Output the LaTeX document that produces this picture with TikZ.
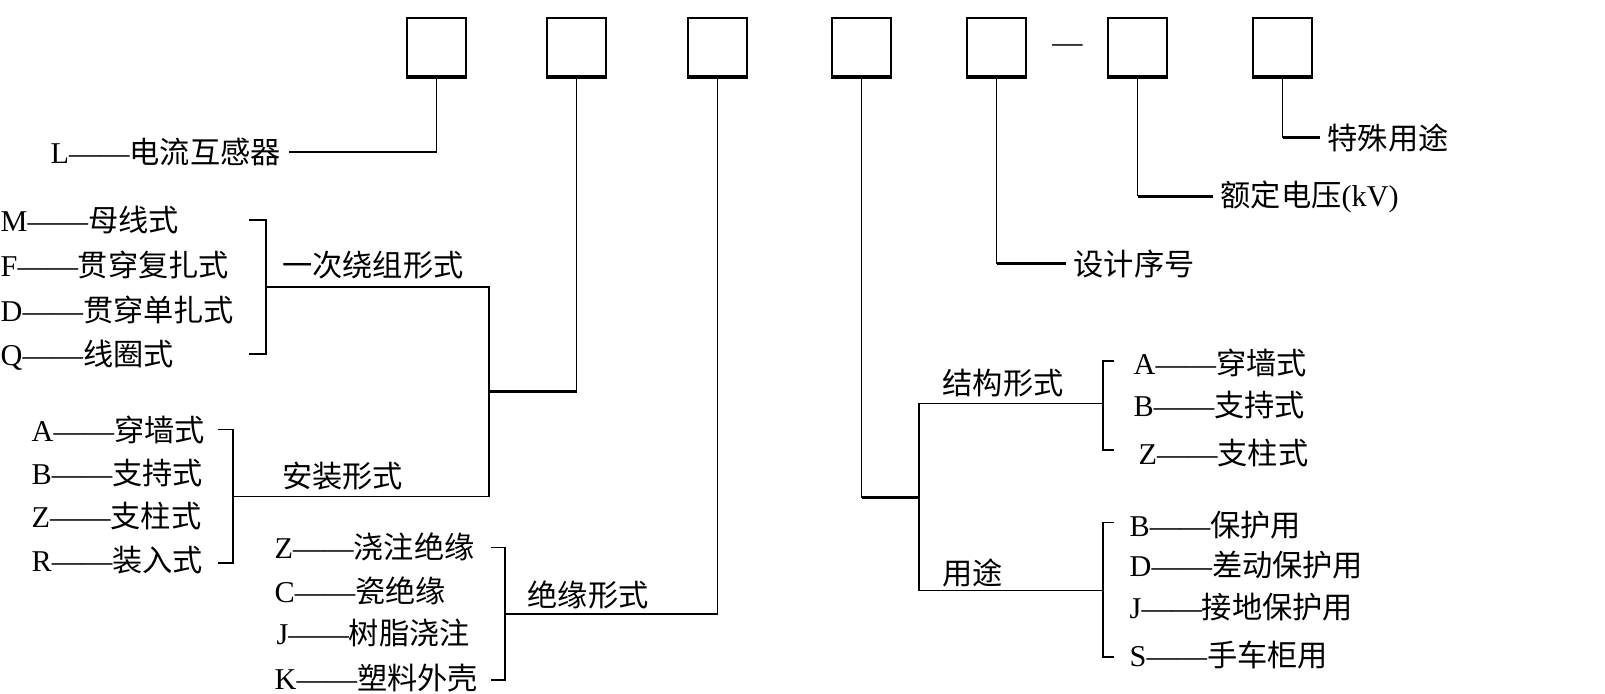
\documentclass[tikz,border=0pt]{standalone}
\usepackage{fontspec}
\setmainfont{Liberation Serif}
\newfontfamily\cjk{Noto Sans CJK SC}

\tikzset{
	code/.style={draw, line width=0.5pt, minimum width=0.59cm, minimum height=0.587cm, inner sep=0pt},
	item/.style={anchor=west, inner sep=2pt, font=\fontsize{8.6}{10}\selectfont},
	head/.style={item, font=\fontsize{8.6}{10}\selectfont\cjk},
	wire/.style={line width=0.45pt},
	bold wire/.style={line width=0.85pt}
}

\begin{document}
\begin{tikzpicture}
	\useasboundingbox (0, 0) rectangle (16.05, 6.94);
	\node[code](b1) at (4.365, 6.47){};
	\node[code](b2) at (5.765, 6.47){};
	\node[code](b3) at (7.175, 6.47){};
	\node[code](b4) at (8.615, 6.47){};
	\node[code](b5) at (9.965, 6.47){};
	\node[code](b6) at (11.375, 6.47){};
	\node[code](b7) at (12.825, 6.47){};
	\foreach \i in {1,...,7}
		\draw[bold wire] (b\i.south west) -- (b\i.south east);
	\node[font=\fontsize{8.6}{10}\selectfont, inner sep=0pt](sep) at (10.675, 6.45){—};

	\node[item](lcur) at (0.43, 5.42){L——{\cjk 电流互感器}};
	\draw[wire] (b1.south) |- (lcur.east);

	\node[item](w1) at (-0.07, 4.74){M——{\cjk 母线式}};
	\node[item](w2) at (-0.07, 4.29){F——{\cjk 贯穿复扎式}};
	\node[item](w3) at (-0.07, 3.84){D——{\cjk 贯穿单扎式}};
	\node[item](w4) at (-0.07, 3.39){Q——{\cjk 线圈式}};
	\node[head](wind) at (2.745, 4.29){一次绕组形式};
	\coordinate (wt) at (2.49, 4.74);
	\coordinate (wb) at (2.49, 3.40);
	\coordinate (wc) at (2.66, 4.07);
	\coordinate (wj) at (4.89, 4.07);
	\draw[wire] (wt) -| (wc) |- (wb);

	\node[item](m1) at (0.24, 2.64){A——{\cjk 穿墙式}};
	\node[item](m2) at (0.24, 2.21){B——{\cjk 支持式}};
	\node[item](m3) at (0.24, 1.78){Z——{\cjk 支柱式}};
	\node[item](m4) at (0.24, 1.34){R——{\cjk 装入式}};
	\node[head](mount) at (2.745, 2.18){安装形式};
	\coordinate (mt) at (2.18, 2.645);
	\coordinate (mb) at (2.18, 1.31);
	\coordinate (mc) at (2.33, 1.973);
	\coordinate (mj) at (4.89, 1.973);
	\draw[wire] (mt) -| (mc) |- (mb);

	\coordinate (k2) at (4.89, 3.023);
	\draw[wire] (wc) -- (wj) -- (mj) -- (mc);
	\draw[wire] (b2.south) -- (b2.south |- k2);
	\draw[bold wire] (b2.south |- k2) -- (k2);

	\node[item](i1) at (2.67, 1.47){Z——{\cjk 浇注绝缘}};
	\node[item](i2) at (2.67, 1.03){C——{\cjk 瓷绝缘}};
	\node[item](i3) at (2.69, 0.61){J——{\cjk 树脂浇注}};
	\node[item](i4) at (2.67, 0.16){K——{\cjk 塑料外壳}};
	\node[head](insu) at (5.20, 0.99){绝缘形式};
	\coordinate (it) at (4.91, 1.465);
	\coordinate (ib) at (4.91, 0.14);
	\coordinate (ic) at (5.05, 0.80);
	\draw[wire] (it) -| (ic) |- (ib);
	\draw[wire] (b3.south) |- (ic);

	\node[item](s1) at (11.26, 3.31){A——{\cjk 穿墙式}};
	\node[item](s2) at (11.26, 2.89){B——{\cjk 支持式}};
	\node[item](s3) at (11.31, 2.41){Z——{\cjk 支柱式}};
	\node[head](struct) at (9.35, 3.11){结构形式};
	\coordinate (st) at (11.14, 3.33);
	\coordinate (sb) at (11.14, 2.44);
	\coordinate (sc) at (11.03, 2.905);
	\coordinate (sj) at (9.19, 2.905);
	\draw[wire] (st) -| (sc) |- (sb);

	\node[item](u1) at (11.22, 1.69){B——{\cjk 保护用}};
	\node[item](u2) at (11.22, 1.29){D——{\cjk 差动保护用}};
	\node[item](u3) at (11.22, 0.87){J——{\cjk 接地保护用}};
	\node[item](u4) at (11.22, 0.39){S——{\cjk 手车柜用}};
	\node[head](use) at (9.35, 1.21){用途};
	\coordinate (ut) at (11.14, 1.713);
	\coordinate (ub) at (11.14, 0.37);
	\coordinate (uc) at (11.03, 1.035);
	\coordinate (uj) at (9.19, 1.035);
	\draw[wire] (ut) -| (uc) |- (ub);

	\coordinate (k4) at (9.19, 1.963);
	\draw[wire] (sc) -- (sj) -- (uj) -- (uc);
	\draw[wire] (b4.south) -- (b4.south |- k4);
	\draw[bold wire] (b4.south |- k4) -- (k4);

	\node[head](des) at (10.66, 4.30){设计序号};
	\draw[wire] (b5.south) -- (b5.south |- des.west);
	\draw[bold wire] (b5.south |- des.west) -- (des.west);
	\node[item](rated) at (12.13, 4.975){{\cjk 额定电压}(kV)};
	\draw[wire] (b6.south) -- (b6.south |- rated.west);
	\draw[bold wire] (b6.south |- rated.west) -- (rated.west);
	\node[head](spec) at (13.20, 5.56){特殊用途};
	\draw[wire] (b7.south) -- (b7.south |- spec.west);
	\draw[bold wire] (b7.south |- spec.west) -- (spec.west);
\end{tikzpicture}
\end{document}
